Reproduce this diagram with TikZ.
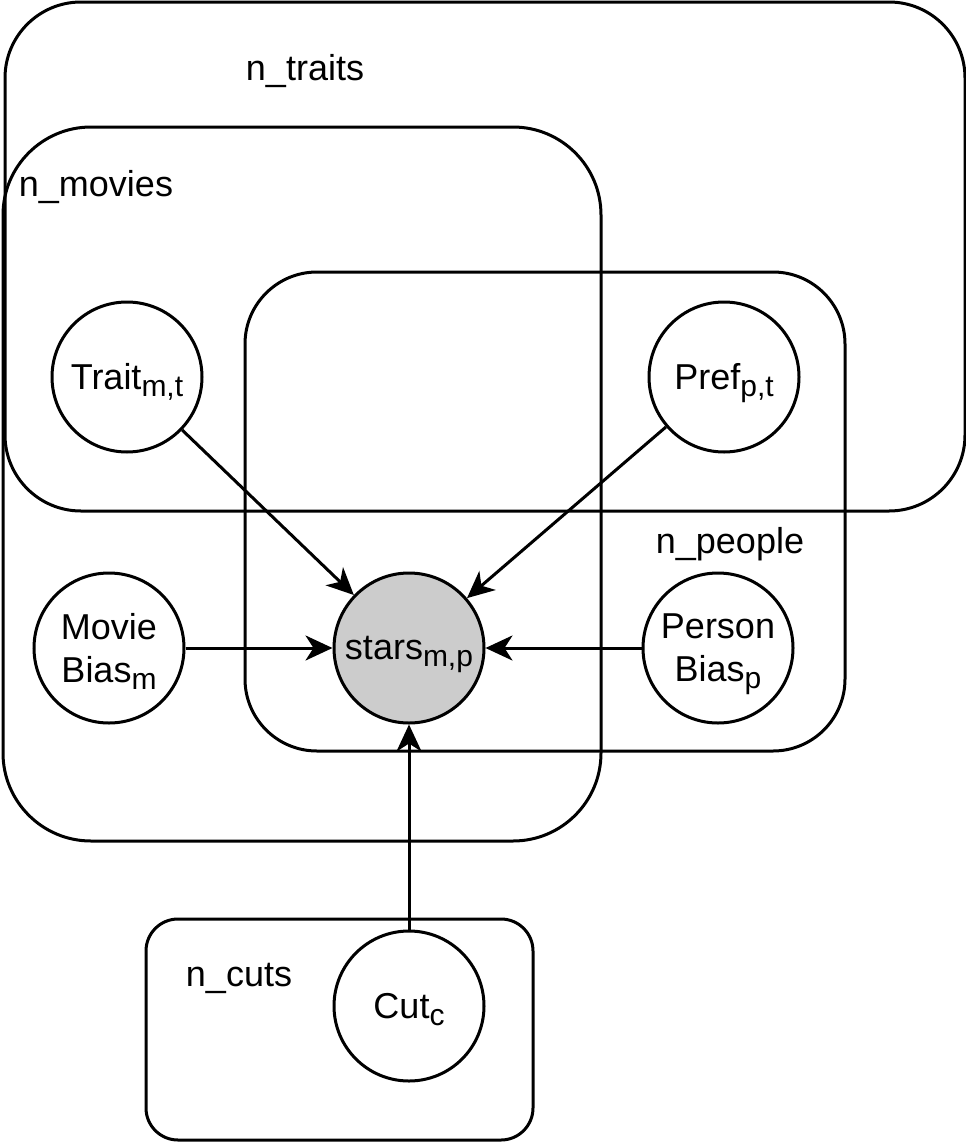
\documentclass[tikz,border=0pt]{standalone}
\usepackage{fontspec}
\setmainfont{Liberation Sans}
\usetikzlibrary{arrows.meta}
\definecolor{c1}{RGB}{204,204,204}
\tikzstyle{model}=[
    x=1pt, y=-1pt,
    every node/.style={font={\fontsize{36}{43}\selectfont}},
    var/.style={circle, draw, line width=3pt, fill=white, minimum size=150pt, inner sep=0pt, align=center},
    observed/.style={var, fill=c1},
    plate box/.style={draw, line width=3pt},
    plate label/.style={anchor=center},
    edge/.style={line width=3pt, -{Stealth[length=27pt,width=25pt,inset=8pt]}},
]
\newcommand{\ix}[1]{\raisebox{-7pt}[0pt][0pt]{\fontsize{30}{30}\selectfont #1}}
\newcommand{\plate}[5]{
    \draw[plate box, rounded corners=#2pt] #3 rectangle #4;
    \node[plate label] (#1) at #5 {n\_#1};
}

\begin{document}
\begin{tikzpicture}[model]
    \useasboundingbox (0,0) rectangle (966,1143);
    \plate{traits}{76}{(5,2)}{(965,511)}{(305,71)}
    \plate{movies}{88}{(3,127)}{(601,841)}{(96,187)}
    \plate{people}{72}{(245,272)}{(845,751)}{(730,544)}
    \plate{cuts}{32}{(146,919)}{(533,1140)}{(239,978)}

    \node[var] (trait) at (127,377) {Trait\ix{m,t}};
    \node[var] (pref) at (724,377) {Pref\ix{p,t}};
    \node[var] (mbias) at (109,648) {Movie\\Bias\ix{m}};
    \node[observed] (stars) at (409,648) {stars\ix{m,p}};
    \node[var] (pbias) at (718,648) {Person\\Bias\ix{p}};
    \node[var] (cut) at (409,1006) {Cut\ix{c}};

    \foreach \n in {trait,pref,mbias,pbias,cut}
        \draw[edge] (\n) -- (stars);
\end{tikzpicture}
\end{document}
